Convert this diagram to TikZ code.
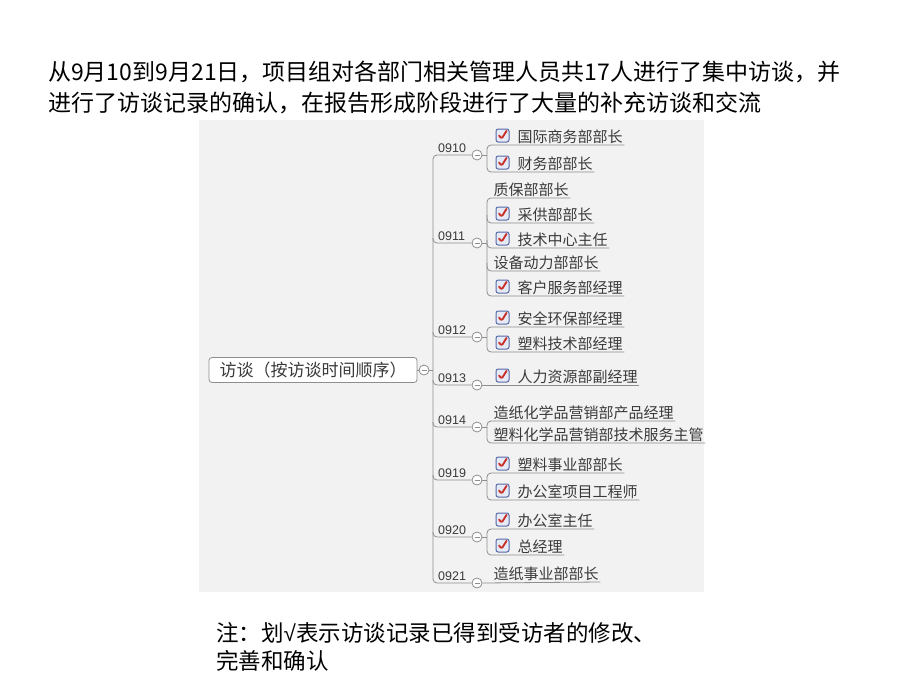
\documentclass[tikz,border=0pt]{standalone}
\usepackage{fontspec}
\newfontfamily\cjkf{Noto Sans CJK SC}
\newfontfamily\latf{Liberation Sans}
\definecolor{panel}{HTML}{F2F2F2}
\definecolor{linegray}{HTML}{8E8E8E}
\definecolor{txtgray}{HTML}{3A3A3A}
\definecolor{cbborder}{HTML}{5468A8}
\definecolor{cbfill}{HTML}{E6EAF6}
\definecolor{chkred}{HTML}{C8322A}
\tikzset{
  conn/.style={draw=linegray, line width=0.8pt, rounded corners=4pt},
  datelbl/.style={font=\latf\fontsize{12.5}{14}\selectfont, text=txtgray, anchor=south west, inner xsep=1pt, inner ysep=2pt},
  kid/.style={font=\cjkf\fontsize{15}{17}\selectfont, text=txtgray, anchor=south west, inner xsep=1.5pt, inner ysep=1pt},
  toggle/.style={circle, draw=linegray, fill=white, minimum size=10pt, inner sep=0pt, line width=0.8pt,
    path picture={\draw[linegray, line width=0.9pt] ([xshift=-2.5pt]path picture bounding box.center) -- ([xshift=2.5pt]path picture bounding box.center);}},
  chkbox/.style={rectangle, rounded corners=2.2pt, draw=cbborder, fill=cbfill, line width=1pt, minimum size=13pt, inner sep=0pt,
    path picture={\draw[chkred, line width=1.9pt, line cap=round, line join=round]
      ([shift={(-3.4pt,0pt)}]path picture bounding box.center) -- ([shift={(-1pt,-3.4pt)}]path picture bounding box.center) -- ([shift={(4pt,4.6pt)}]path picture bounding box.center);}},
  rootbox/.style={rectangle, rounded corners=3pt, draw=linegray, fill=white, line width=0.8pt, minimum width=208pt, minimum height=25pt,
    font=\cjkf\fontsize{17}{19}\selectfont, text=txtgray},
  toptext/.style={font=\cjkf\fontsize{23}{27}\selectfont, text=black, anchor=west, inner sep=0pt},
  notetext/.style={font=\cjkf\fontsize{22.5}{26}\selectfont, text=black, anchor=west, inner sep=0pt},
}
\begin{document}
\begin{tikzpicture}[x=1pt,y=-1pt]
\useasboundingbox (0,0) rectangle (920,690);
\fill[white] (0,0) rectangle (920,690);
\fill[panel] (199,120) rectangle (704,592);

% top text
\node[toptext] (top1) at (48,72) {从9月10到9月21日，项目组对各部门相关管理人员共17人进行了集中访谈，并};
\node[toptext] (top2) at (48,103) {进行了访谈记录的确认，在报告形成阶段进行了大量的补充访谈和交流};

% root
\node[rootbox] (root) at (313,370) {访谈（按访谈时间顺序）};
\node[toggle] (troot) at (424,370) {};
\draw[conn] (root.east) -- (troot.west);
\coordinate (trunkmid) at (433,370);
\draw[conn] (troot.east) -- (trunkmid);

% dates
\foreach \d/\y in {0910/155,0911/243,0912/337,0913/385,0914/427,0919/480,0920/537,0921/583}{
  \node[datelbl] (d\d) at (437,\y) {\d};
  \node[toggle] (t\d) at (477,\y) {};
  \coordinate (u\d) at (433,\y);
}
% trunk
\draw[conn] (t0910.west) -- (u0910) -- (u0921) -- (t0921.west);
\foreach \d in {0911,0912,0913,0914,0919,0920}{
  \draw[conn] ([yshift=5pt]u\d) |- (t\d.west);
}

% children: name / underline y / text
\newcommand{\cbkid}[3]{%
  \node[chkbox] (c#1) at (502.5,#2-9.5) {};
  \node[kid] (#1) at (516,#2) {#3};}
\newcommand{\plainkid}[3]{%
  \node[kid] (#1) at (492,#2) {#3};}

\cbkid{k1}{145}{国际商务部部长}
\cbkid{k2}{172}{财务部部长}
\plainkid{k3}{198}{质保部部长}
\cbkid{k4}{223}{采供部部长}
\cbkid{k5}{248}{技术中心主任}
\plainkid{k6}{271}{设备动力部部长}
\cbkid{k7}{296}{客户服务部经理}
\cbkid{k8}{327}{安全环保部经理}
\cbkid{k9}{352}{塑料技术部经理}
\cbkid{k10}{385}{人力资源部副经理}
\plainkid{k11}{421}{造纸化学品营销部产品经理}
\plainkid{k12}{443}{塑料化学品营销部技术服务主管}
\cbkid{k13}{473}{塑料事业部部长}
\cbkid{k14}{500}{办公室项目工程师}
\cbkid{k15}{529}{办公室主任}
\cbkid{k16}{555}{总经理}
\plainkid{k17}{582}{造纸事业部部长}

% brackets
% 0910
\draw[conn] (k1.south east) -- (487,145) -- (487,172) -- (k2.south east);
\draw[conn] (t0910.east) -- (487,155);
% 0911
\draw[conn] (k3.south east) -- (487,198) -- (487,296) -- (k7.south east);
\draw[conn] (487,215) |- (k4.south east);
\draw[conn] (487,240) |- (k5.south east);
\draw[conn] (487,263) |- (k6.south east);
\draw[conn] (t0911.east) -- (487,243);
% 0912
\draw[conn] (k8.south east) -- (487,327) -- (487,352) -- (k9.south east);
\draw[conn] (t0912.east) -- (487,337);
% 0913
\draw[conn] (t0913.east) -- (k10.south east);
% 0914
\draw[conn] (k11.south east) -- (487,421) -- (487,443) -- (k12.south east);
\draw[conn] (t0914.east) -- (487,427);
% 0919
\draw[conn] (k13.south east) -- (487,473) -- (487,500) -- (k14.south east);
\draw[conn] (t0919.east) -- (487,480);
% 0920
\draw[conn] (k15.south east) -- (487,529) -- (487,555) -- (k16.south east);
\draw[conn] (t0920.east) -- (487,537);
% 0921
\draw[conn] (t0921.east) -- (k17.south east);

% note
\node[notetext] (note1) at (216,633) {注：划{\latf √}表示访谈记录已得到受访者的修改、};
\node[notetext] (note2) at (216,661) {完善和确认};
\end{tikzpicture}
\end{document}
